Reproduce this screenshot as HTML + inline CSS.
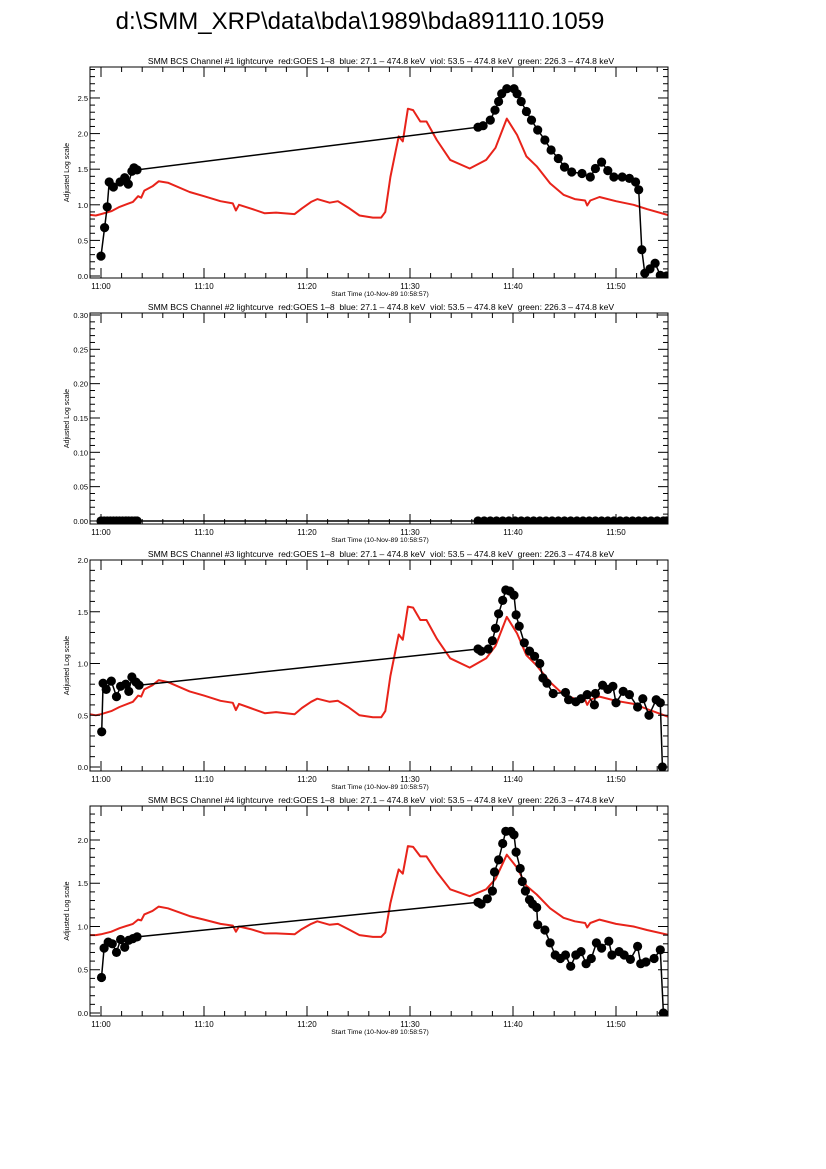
<!DOCTYPE html>
<html><head><meta charset="utf-8"><style>
html,body{margin:0;padding:0;background:#fff;}
svg{display:block;font-family:"Liberation Sans",sans-serif;}
.pre{white-space:pre;}
</style></head><body>
<svg id="chart" width="826" height="1169" viewBox="0 0 826 1169" xmlns="http://www.w3.org/2000/svg">
<rect width="826" height="1169" fill="#fff"/>
<text x="360" y="29" font-size="24" text-anchor="middle">d:\SMM_XRP\data\bda\1989\bda891110.1059</text>
</svg>
<script>
// time in minutes after 11:00
const goesTimes = [-1.1,-0.5,0,1,1.8,3.1,3.6,3.9,4.2,5,5.6,6.5,8.6,10,11.6,12.8,13.1,13.4,14.5,15.9,17,18.8,19.5,20.4,21,22.2,23,24,25.1,26.4,27.2,27.6,28.1,28.6,28.9,29.3,29.8,30.3,31,31.6,32.6,33.9,35.8,37.4,38.3,39.4,40.4,41.3,42.3,43.6,44.9,46,47,47.2,47.5,48.4,50,51.7,53,55.2];
const goesCh1 = [0.86,0.85,0.87,0.91,0.97,1.04,1.12,1.1,1.2,1.26,1.33,1.31,1.18,1.12,1.05,1.02,0.92,1.0,0.95,0.88,0.89,0.87,0.95,1.04,1.08,1.03,1.05,0.96,0.85,0.82,0.82,0.9,1.39,1.75,1.96,1.89,2.35,2.33,2.17,2.17,1.91,1.63,1.51,1.63,1.8,2.21,1.98,1.68,1.54,1.30,1.14,1.08,1.06,0.99,1.06,1.11,1.05,1.0,0.94,0.85];
const goesCh3 = [0.51,0.50,0.51,0.54,0.58,0.63,0.69,0.68,0.75,0.79,0.84,0.82,0.73,0.69,0.64,0.62,0.55,0.61,0.57,0.52,0.53,0.51,0.57,0.63,0.66,0.63,0.64,0.58,0.50,0.48,0.48,0.54,0.88,1.13,1.28,1.23,1.55,1.54,1.42,1.42,1.24,1.05,0.96,1.05,1.17,1.45,1.29,1.08,0.98,0.82,0.70,0.66,0.65,0.60,0.65,0.68,0.64,0.61,0.56,0.48];
const goesCh4 = [0.90,0.90,0.91,0.94,0.98,1.03,1.08,1.07,1.14,1.18,1.23,1.21,1.12,1.08,1.03,1.01,0.94,1.0,0.97,0.92,0.92,0.91,0.97,1.03,1.06,1.02,1.03,0.97,0.90,0.88,0.88,0.93,1.27,1.52,1.66,1.61,1.93,1.92,1.81,1.81,1.63,1.43,1.35,1.43,1.55,1.83,1.68,1.47,1.37,1.21,1.10,1.06,1.04,0.99,1.04,1.08,1.03,1.0,0.96,0.90];

const bcs1Times = [0,0.35,0.6,0.8,1.2,1.85,2.3,2.65,3.0,3.2,3.5,36.6,37.1,37.8,38.25,38.6,38.9,39.4,40.1,40.4,40.8,41.3,41.8,42.4,43.1,43.7,44.4,45.0,45.7,46.7,47.5,48.0,48.6,49.2,49.8,50.6,51.3,51.9,52.2,52.5,52.8,53.3,53.8,54.3,54.9];
const bcs1Values = [0.28,0.68,0.97,1.32,1.25,1.32,1.38,1.29,1.47,1.52,1.49,2.09,2.11,2.19,2.33,2.45,2.56,2.63,2.63,2.56,2.45,2.31,2.19,2.05,1.91,1.77,1.65,1.53,1.46,1.44,1.39,1.51,1.60,1.48,1.39,1.39,1.37,1.32,1.21,0.37,0.04,0.10,0.18,0.01,0.0];

const bcs2Times = [0,0.3,0.6,0.9,1.2,1.5,1.8,2.1,2.4,2.7,3.0,3.3,3.5,36.6,37.2,37.8,38.4,39.0,39.6,40.2,40.8,41.4,42.0,42.6,43.2,43.8,44.4,45.0,45.6,46.2,46.8,47.4,48.0,48.6,49.2,49.8,50.4,51.0,51.6,52.2,52.8,53.4,54.0,54.6,54.9];
const bcs2Values = [0,0,0,0,0,0,0,0,0,0,0,0,0,0,0,0,0,0,0,0,0,0,0,0,0,0,0,0,0,0,0,0,0,0,0,0,0,0,0,0,0,0,0,0,0];

const bcs3Times = [0.07,0.2,0.5,1.0,1.5,1.9,2.4,2.7,3.0,3.4,3.7,36.6,36.9,37.6,38.0,38.3,38.6,39.0,39.3,39.7,40.1,40.3,40.6,41.1,41.6,42.1,42.6,42.9,43.3,43.9,45.1,45.4,46.1,46.6,47.2,47.9,48.0,48.7,49.2,49.7,50.0,50.7,51.3,52.1,52.6,53.2,53.9,54.3,54.5];
const bcs3Values = [0.34,0.81,0.75,0.83,0.68,0.78,0.80,0.73,0.87,0.82,0.79,1.14,1.12,1.14,1.22,1.34,1.48,1.61,1.71,1.70,1.66,1.47,1.36,1.20,1.12,1.07,1.00,0.86,0.81,0.71,0.72,0.65,0.63,0.66,0.70,0.60,0.71,0.79,0.75,0.78,0.62,0.73,0.70,0.58,0.66,0.50,0.65,0.62,0.0];

const bcs4Times = [0.05,0.3,0.7,1.1,1.5,1.9,2.3,2.7,3.1,3.5,36.6,36.9,37.5,38.0,38.2,38.6,39.0,39.3,39.8,40.1,40.3,40.7,40.9,41.2,41.6,41.9,42.3,42.4,43.1,43.6,44.1,44.6,45.1,45.6,46.1,46.6,47.1,47.6,48.1,48.6,49.3,49.6,50.3,50.8,51.4,52.1,52.4,52.9,53.7,54.3,54.6];
const bcs4Values = [0.41,0.75,0.82,0.80,0.70,0.85,0.76,0.84,0.86,0.88,1.28,1.26,1.32,1.41,1.63,1.77,1.96,2.10,2.10,2.06,1.86,1.67,1.52,1.41,1.31,1.26,1.22,1.02,0.96,0.81,0.67,0.63,0.67,0.54,0.67,0.71,0.57,0.63,0.81,0.75,0.83,0.67,0.71,0.67,0.62,0.77,0.57,0.59,0.63,0.73,0.0];

const xTickTimes = [0,10,20,30,40,50];
const xTickLabels = ["11:00","11:10","11:20","11:30","11:40","11:50"];

const NS = "http://www.w3.org/2000/svg";
const svg = document.getElementById('chart');
const X0 = 90, X1 = 668;
function xs(t){ return 101 + t*10.3; }
function mk(tag, attrs, parent){
  const e = document.createElementNS(NS, tag);
  for (const k in attrs) e.setAttribute(k, attrs[k]);
  (parent||svg).appendChild(e);
  return e;
}
const subtitle = "  red:GOES 1\u20138  blue: 27.1 \u2013 474.8 keV  viol: 53.5 \u2013 474.8 keV  green: 226.3 \u2013 474.8 keV";

const panels = [
 {n:1, top:67, bot:278, ymin:-0.028, ymax:2.935, major:0.5, minor:0.1, dec:1, goes:goesCh1, bt:bcs1Times, bv:bcs1Values},
 {n:2, top:313, bot:524, ymin:-0.0044, ymax:0.3029, major:0.05, minor:0.01, dec:2, goes:null, bt:bcs2Times, bv:bcs2Values},
 {n:3, top:560, bot:771, ymin:-0.0386, ymax:2.0, major:0.5, minor:0.1, dec:1, goes:goesCh3, bt:bcs3Times, bv:bcs3Values},
 {n:4, top:806, bot:1016, ymin:-0.0347, ymax:2.393, major:0.5, minor:0.1, dec:1, goes:goesCh4, bt:bcs4Times, bv:bcs4Values}
];

panels.forEach(p => {
  const g = mk('g', {});
  
  
  const ys = v => p.bot - (v - p.ymin) / (p.ymax - p.ymin) * (p.bot - p.top);
  const clipId = 'clip' + p.n;
  const cp = mk('clipPath', {id: clipId}, g);
  mk('rect', {x:X0, y:p.top, width:X1-X0, height:p.bot-p.top}, cp);

  const title = mk('text', {x:381, y:p.top-3, 'font-size':'8.6', 'text-anchor':'middle', 'class':'pre'}, g);
  
  
  title.textContent = 'SMM BCS Channel #' + p.n + ' lightcurve' + subtitle;

  if (p.goes){
    const pts = goesTimes.map((t,i) => xs(t).toFixed(1) + ',' + ys(p.goes[i]).toFixed(1)).join(' ');
    const pl = mk('polyline', {points:pts, fill:'none', stroke:'#e8231a', 'stroke-width':'2', 'stroke-linejoin':'round', 'clip-path':'url(#'+clipId+')'}, g);
    
    
  }
  const bpts = p.bt.map((t,i) => xs(t).toFixed(1) + ',' + ys(p.bv[i]).toFixed(1)).join(' ');
  const bl = mk('polyline', {points:bpts, fill:'none', stroke:'#000', 'stroke-width':'1.5', 'clip-path':'url(#'+clipId+')'}, g);
  
  
  const dg = mk('g', {'clip-path':'url(#'+clipId+')'}, g);
  
  
  p.bt.forEach((t,i) => {
    const c = mk('circle', {cx:xs(t).toFixed(1), cy:ys(p.bv[i]).toFixed(1), r:4.6, fill:'#000'}, dg);
    
    
  });

  const fr = mk('rect', {x:X0, y:p.top, width:X1-X0, height:p.bot-p.top, fill:'none', stroke:'#000', 'stroke-width':'1'}, g);
  
  

  for (let t = 0; t <= 54; t += 2){
    const x = xs(t);
    const len = (t % 10 === 0) ? 10 : 5;
    mk('line', {x1:x, x2:x, y1:p.bot, y2:p.bot-len, stroke:'#000', 'stroke-width':'1'}, g);
    mk('line', {x1:x, x2:x, y1:p.top, y2:p.top+len, stroke:'#000', 'stroke-width':'1'}, g);
  }
  xTickTimes.forEach((t,i) => {
    const tl = mk('text', {x:xs(t), y:p.bot+11, 'font-size':'8', 'text-anchor':'middle'}, g);
    
    
    tl.textContent = xTickLabels[i];
  });
  const xt = mk('text', {x:380, y:p.bot+18, 'font-size':'6.8', 'text-anchor':'middle'}, g);
  
  
  xt.textContent = 'Start Time (10-Nov-89 10:58:57)';

  const nMinor = Math.round(p.ymax / p.minor);
  for (let k = 0; k <= nMinor; k++){
    const v = k * p.minor;
    const y = ys(v);
    if (y < p.top - 0.5) continue;
    const isMajor = Math.abs(v / p.major - Math.round(v / p.major)) < 1e-6;
    const len = isMajor ? 10 : 5;
    mk('line', {x1:X0, x2:X0+len, y1:y, y2:y, stroke:'#000', 'stroke-width':'1'}, g);
    mk('line', {x1:X1, x2:X1-len, y1:y, y2:y, stroke:'#000', 'stroke-width':'1'}, g);
    if (isMajor){
      const yl = mk('text', {x:X0-2, y:y+3, 'font-size':'7.5', 'text-anchor':'end'}, g);
      
      
      yl.textContent = v.toFixed(p.dec);
    }
  }
  const cy = (p.top + p.bot) / 2;
  const ya = mk('text', {x:0, y:0, 'font-size':'7', 'text-anchor':'middle', transform:'translate(69,'+cy+') rotate(-90)'}, g);
  
  
  ya.textContent = 'Adjusted Log scale';
});
</script>
</body></html>
